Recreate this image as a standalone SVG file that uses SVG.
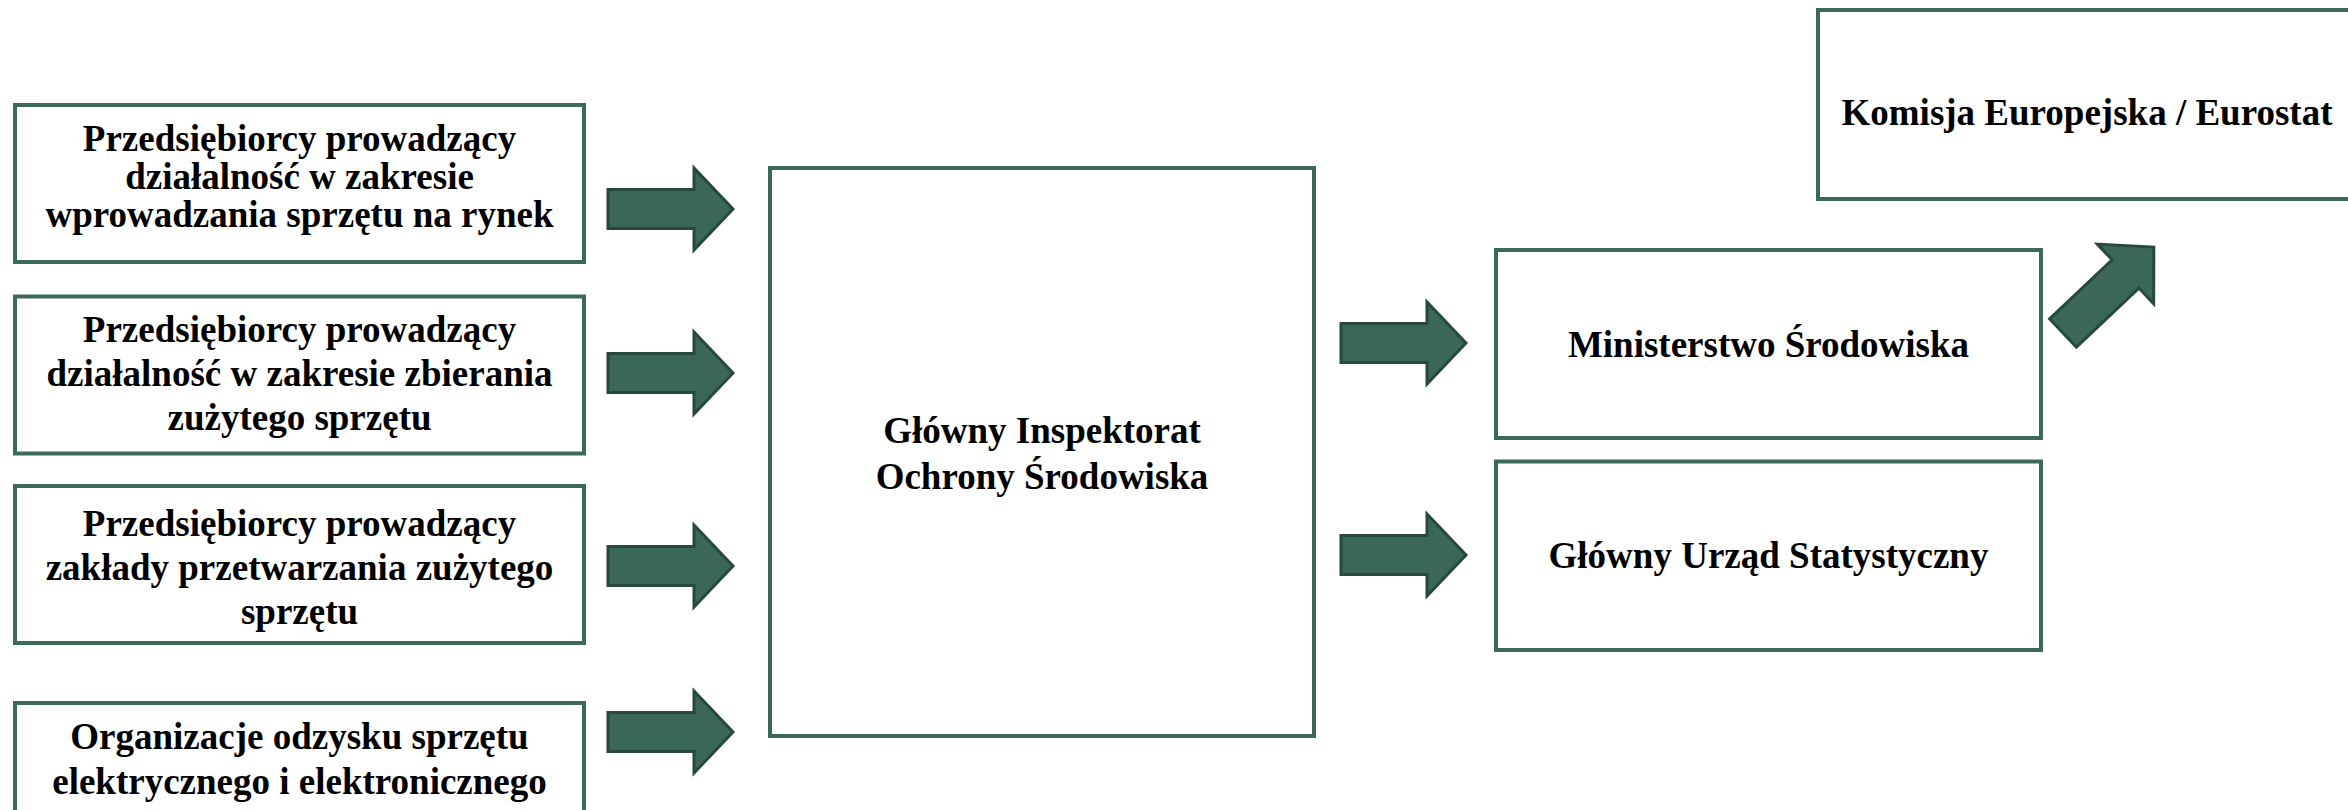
<svg xmlns="http://www.w3.org/2000/svg" width="2348" height="810" viewBox="0 0 2348 810">
<style>
.box{fill:#fff;stroke:#3b6a59;stroke-width:4}
.t{font-family:"Liberation Serif","Times New Roman",serif;font-weight:bold;font-size:37px;fill:#000;text-anchor:middle}
.arrow{fill:#3a6756;stroke:#27493c;stroke-width:3;stroke-linejoin:miter}
</style>
<defs>
<path id="arr" d="M0,-19.5 H86 V-41 L125,0 L86,41 V19.5 H0 Z"/>
</defs>
<rect width="2348" height="810" fill="#fff"/>
<g id="n1">
<rect class="box" x="15" y="105" width="569" height="157"/>
<text class="t" x="299.5" y="151">Przedsiębiorcy prowadzący</text>
<text class="t" x="299.5" y="189">działalność w zakresie</text>
<text class="t" x="299.5" y="227">wprowadzania sprzętu na rynek</text>
</g>
<g id="n2">
<rect class="box" x="15" y="296.5" width="569" height="157"/>
<text class="t" x="299.5" y="342">Przedsiębiorcy prowadzący</text>
<text class="t" x="299.5" y="386">działalność w zakresie zbierania</text>
<text class="t" x="299.5" y="430">zużytego sprzętu</text>
</g>
<g id="n3">
<rect class="box" x="15" y="486" width="569" height="157"/>
<text class="t" x="299.5" y="536">Przedsiębiorcy prowadzący</text>
<text class="t" x="299.5" y="580">zakłady przetwarzania zużytego</text>
<text class="t" x="299.5" y="624">sprzętu</text>
</g>
<g id="n4">
<rect class="box" x="15" y="703" width="569" height="157"/>
<text class="t" x="299.5" y="749">Organizacje odzysku sprzętu</text>
<text class="t" x="299.5" y="794">elektrycznego i elektronicznego</text>
</g>
<g id="gios">
<rect class="box" x="770" y="168" width="544" height="568"/>
<text class="t" x="1042" y="443">Główny Inspektorat</text>
<text class="t" x="1042" y="489">Ochrony Środowiska</text>
</g>
<g id="ms">
<rect class="box" x="1496" y="250" width="545" height="188"/>
<text class="t" x="1768.5" y="357">Ministerstwo Środowiska</text>
</g>
<g id="gus">
<rect class="box" x="1496" y="461.5" width="545" height="188.5"/>
<text class="t" x="1768.5" y="568">Główny Urząd Statystyczny</text>
</g>
<g id="ke">
<rect class="box" x="1818" y="10" width="540" height="189"/>
<text class="t" x="2087" y="125">Komisja Europejska / Eurostat</text>
</g>
<g id="connectors">
<use href="#arr" class="arrow" transform="translate(608,209)"/>
<use href="#arr" class="arrow" transform="translate(608,373)"/>
<use href="#arr" class="arrow" transform="translate(608,566)"/>
<use href="#arr" class="arrow" transform="translate(608,732)"/>
<use href="#arr" class="arrow" transform="translate(1341,343)"/>
<use href="#arr" class="arrow" transform="translate(1341,555)"/>
<use href="#arr" class="arrow" transform="translate(2063,333) rotate(-43.4)"/>
</g>
</svg>
